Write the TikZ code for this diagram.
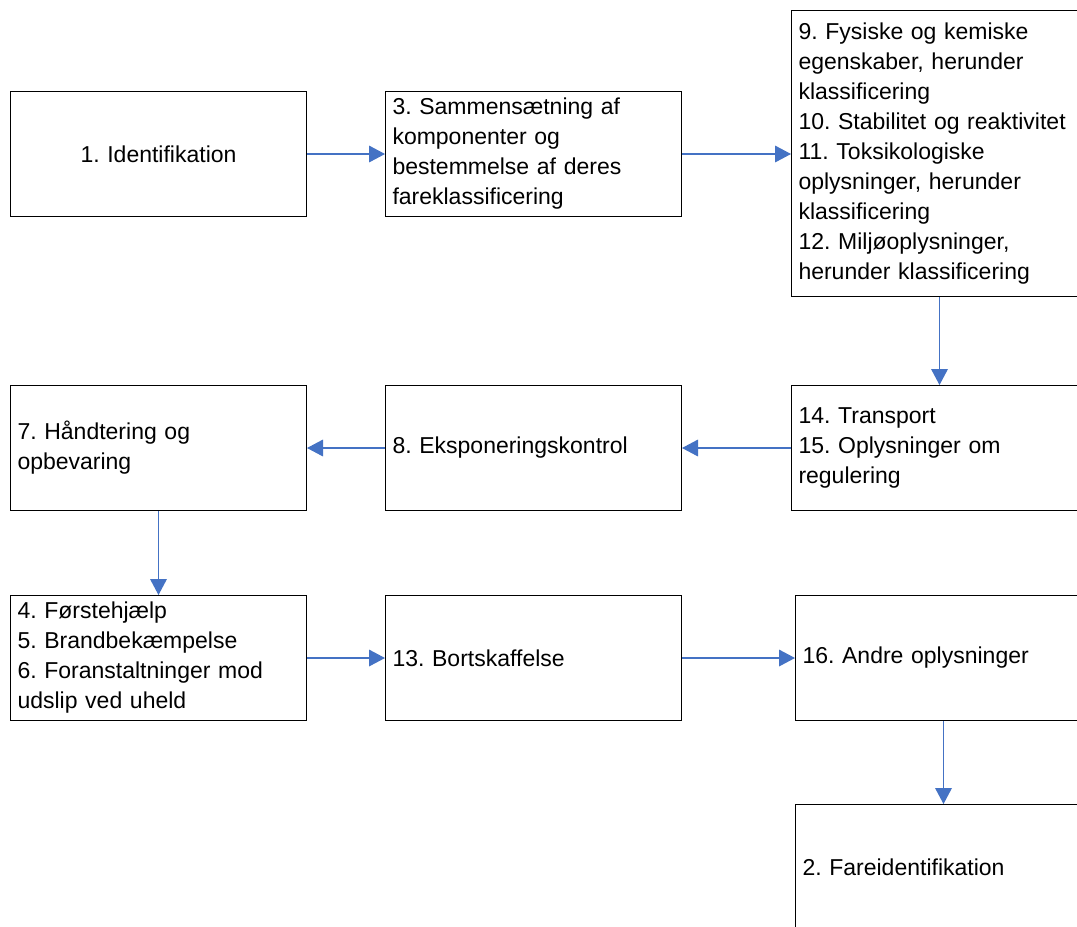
\documentclass[tikz,border=0pt]{standalone}
\usepackage{fontspec}
\setmainfont{Liberation Sans}
\usetikzlibrary{arrows.meta}
\definecolor{arrblue}{HTML}{4472C4}
\frenchspacing
\begin{document}
\begin{tikzpicture}[x=0.75pt,y=-0.75pt,
 box/.style={draw=black, line width=0.75pt, anchor=north west, minimum height=93.75pt,
   text width=211.5pt, inner xsep=5.25pt, inner ysep=0pt, align=left,
   font=\frenchspacing\fontsize{17.25pt}{22.5pt}\selectfont},
 arr/.style={draw=arrblue, line width=0.9pt, -{Triangle[length=12pt,width=12.5pt]}}]
\clip (0,0) rectangle (1077,926);
\fill[white] (0,0) rectangle (1077,926);
\node[box, align=center] (b1) at (10,91) {1. Identifikation};
\node[box] (b3) at (385,91) {3. Sammensætning af\\komponenter og\\bestemmelse af deres\\fareklassificering};
\node[box, minimum height=214.5pt] (b9) at (791,10) {9. Fysiske og kemiske\\egenskaber, herunder\\klassificering\\10. Stabilitet og reaktivitet\\11. Toksikologiske\\oplysninger, herunder\\klassificering\\12. Miljøoplysninger,\\herunder klassificering};
\node[box] (b14) at (791,385) {14. Transport\\15. Oplysninger om\\regulering};
\node[box] (b8) at (385,385) {8. Eksponeringskontrol};
\node[box] (b7) at (10,385) {7. Håndtering og\\opbevaring};
\node[box] (b4) at (10,595) {4. Førstehjælp\\5. Brandbekæmpelse\\6. Foranstaltninger mod\\udslip ved uheld};
\node[box] (b13) at (385,595) {13. Bortskaffelse};
\node[box] (b16) at (795,595) {16. Andre oplysninger};
\node[box] (b2) at (795,804) {2. Fareidentifikation};
\draw[arr] (b1.east) -- (b3.west);
\draw[arr] (b3.east) -- (b9.west |- b3.east);
\draw[arr] (b9.south) -- (b14.north);
\draw[arr] (b14.west) -- (b8.east);
\draw[arr] (b8.west) -- (b7.east);
\draw[arr] (b7.south) -- (b4.north);
\draw[arr] (b4.east) -- (b13.west);
\draw[arr] (b13.east) -- (b16.west);
\draw[arr] (b16.south) -- (b2.north);
\end{tikzpicture}
\end{document}
